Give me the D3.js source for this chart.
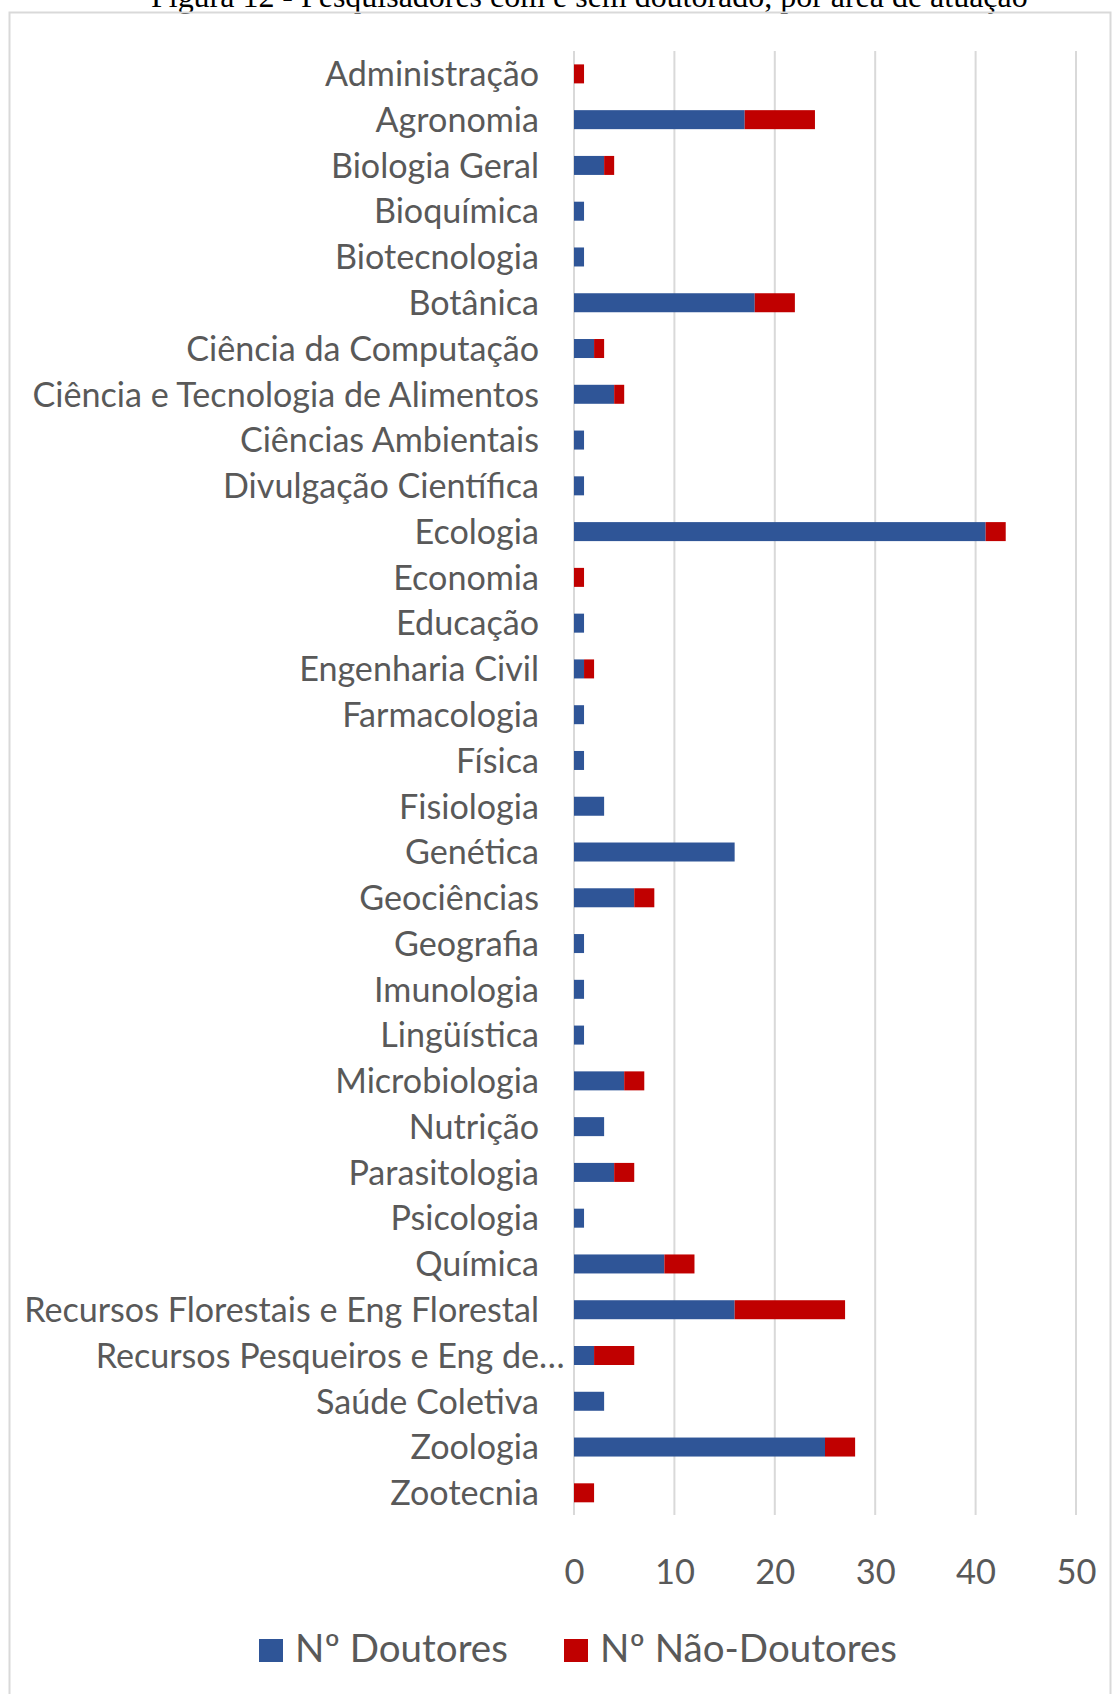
<!DOCTYPE html>
<html lang="pt">
<head>
<meta charset="utf-8">
<script src="https://cdn.jsdelivr.net/npm/d3@7"></script>
<style>
  html, body { margin: 0; padding: 0; background: #fff; }
  svg { display: block; }
</style>
</head>
<body>
<svg id="chart" width="1118" height="1694"></svg>
<script>
// Áreas de atuação (de cima para baixo)
const categories = [
  "Administração", "Agronomia", "Biologia Geral", "Bioquímica", "Biotecnologia",
  "Botânica", "Ciência da Computação", "Ciência e Tecnologia de Alimentos",
  "Ciências Ambientais", "Divulgação Científica", "Ecologia", "Economia",
  "Educação", "Engenharia Civil", "Farmacologia", "Física", "Fisiologia",
  "Genética", "Geociências", "Geografia", "Imunologia", "Lingüística",
  "Microbiologia", "Nutrição", "Parasitologia", "Psicologia", "Química",
  "Recursos Florestais e Eng Florestal", "Recursos Pesqueiros e Eng de…",
  "Saúde Coletiva", "Zoologia", "Zootecnia"
];

// Nº de pesquisadores com doutorado
const doutores = [
  0, 17, 3, 1, 1, 18, 2, 4, 1, 1, 41, 0, 1, 1, 1, 1, 3,
  16, 6, 1, 1, 1, 5, 3, 4, 1, 9, 16, 2, 3, 25, 0
];

// Nº de pesquisadores sem doutorado
const naoDoutores = [
  1, 7, 1, 0, 0, 4, 1, 1, 0, 0, 2, 1, 0, 1, 0, 0, 0,
  0, 2, 0, 0, 0, 2, 0, 2, 0, 3, 11, 4, 0, 3, 2
];

const seriesNames = ["Nº Doutores", "Nº Não-Doutores"];
const xTicks = [0, 10, 20, 30, 40, 50];
const titleText = "Figura 12 - Pesquisadores com e sem doutorado, por área de atuação";

const COLORS = ["#2F5597", "#C00000"];
const TEXT = "#595959";
const GRID = "#D9D9D9";
const FONT = "Lato, 'Open Sans', sans-serif";

const svg = d3.select("#chart");

// scale a font so that a sample string spans the wanted width
function fitSize(sample, family, width) {
  const t = svg.append("text").attr("font-family", family).attr("font-size", 100).text(sample);
  const w = t.node().getComputedTextLength();
  t.remove();
  return 100 * width / w;
}

// Caption above the chart frame
const titleSize = fitSize(titleText, "'Liberation Serif', 'Times New Roman', serif", 877);
svg.append("text")
  .attr("x", 151).attr("y", 7)
  .attr("font-family", "'Liberation Serif', 'Times New Roman', serif")
  .attr("font-size", titleSize)
  .attr("fill", "#000")
  .text(titleText);

// Chart frame
svg.append("rect")
  .attr("x", 9.5).attr("y", 12.5)
  .attr("width", 1101).attr("height", 1720)
  .attr("fill", "none")
  .attr("stroke", GRID)
  .attr("stroke-width", 2);

const x = d3.scaleLinear().domain([0, 50]).range([574, 1076]);
const y = d3.scaleBand()
  .domain(categories)
  .range([51, 1515.7])
  .paddingInner(0.585)
  .paddingOuter(0.2925);

// Vertical gridlines
svg.append("g")
  .selectAll("line")
  .data(xTicks)
  .join("line")
  .attr("x1", d => x(d)).attr("x2", d => x(d))
  .attr("y1", 51).attr("y2", 1515)
  .attr("stroke", GRID)
  .attr("stroke-width", 2);

// Stacked bars
const rows = categories.map((c, i) => ({ cat: c, d: doutores[i], n: naoDoutores[i] }));
const stacked = d3.stack().keys(["d", "n"])(rows);

svg.append("g")
  .selectAll("g")
  .data(stacked)
  .join("g")
  .attr("fill", (s, i) => COLORS[i])
  .selectAll("rect")
  .data(s => s.filter(p => p[1] > p[0]))
  .join("rect")
  .attr("x", p => x(p[0]))
  .attr("width", p => x(p[1]) - x(p[0]))
  .attr("y", p => y(p.data.cat))
  .attr("height", y.bandwidth());

// Category labels
const labelSize = fitSize("Administração", FONT, 214);
const labelRight = 539;
const labels = svg.append("g")
  .attr("font-family", FONT)
  .attr("font-size", labelSize)
  .attr("fill", TEXT);

categories.forEach(c => {
  const t = labels.append("text")
    .attr("y", y(c) + y.bandwidth() / 2)
    .attr("dy", "0.36em")
    .text(c);
  if (c.endsWith("…")) {
    // truncated label: the ellipsis hangs past the label column
    const probe = labels.append("text").text(c.slice(0, -1));
    const w = probe.node().getComputedTextLength();
    probe.remove();
    t.attr("x", labelRight - w).attr("text-anchor", "start");
  } else {
    t.attr("x", labelRight).attr("text-anchor", "end");
  }
});

// Value axis labels
const tickSize = fitSize("10", FONT, 40);
const xAxis = d3.axisBottom(x).tickValues(xTicks).tickSize(0).tickPadding(0).tickFormat(d3.format("d"));
const axisG = svg.append("g")
  .attr("transform", "translate(0,1515)")
  .call(xAxis);
axisG.select(".domain").remove();
axisG.selectAll("text")
  .attr("font-family", FONT)
  .attr("font-size", tickSize)
  .attr("fill", TEXT)
  .attr("dy", null)
  .attr("y", 69);

// Legend
const legendSize = fitSize("Nº Doutores", FONT, 213);
const legendX = [259, 564];
const legend = svg.append("g")
  .attr("font-family", FONT)
  .attr("font-size", legendSize)
  .attr("fill", TEXT);
seriesNames.forEach((name, i) => {
  legend.append("rect")
    .attr("x", legendX[i]).attr("y", 1639)
    .attr("width", 24).attr("height", 23)
    .attr("fill", COLORS[i]);
  legend.append("text")
    .attr("x", legendX[i] + 36).attr("y", 1662)
    .text(name);
});
</script>
</body>
</html>
